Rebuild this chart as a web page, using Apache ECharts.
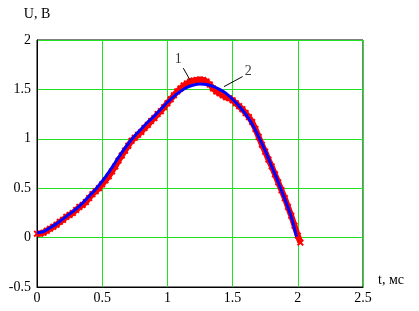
<!DOCTYPE html>
<html><head><meta charset="utf-8">
<script src="https://cdn.jsdelivr.net/npm/echarts@6/dist/echarts.min.js"></script>
<style>html,body{margin:0;padding:0;background:#fff}#c{width:419px;height:311px}</style>
</head><body><div id="c"></div>
<script>
const xTicks = [0, 0.5, 1, 1.5, 2, 2.5];
const yTicks = [-0.5, 0, 0.5, 1, 1.5, 2];
const blueT = [0,0.05,0.1,0.15,0.2,0.25,0.3,0.35,0.4,0.45,0.5,0.55,0.6,0.65,0.7,0.75,0.8,0.85,0.9,0.95,1.0,1.05,1.1,1.15,1.2,1.25,1.3,1.35,1.4,1.45,1.5,1.55,1.6,1.65,1.7,1.75,1.8,1.85,1.9,1.95,1.99];
const blueU = [0.05,0.06,0.10,0.14,0.19,0.24,0.29,0.35,0.42,0.49,0.57,0.66,0.76,0.86,0.95,1.03,1.10,1.17,1.23,1.30,1.37,1.43,1.48,1.52,1.545,1.555,1.55,1.53,1.50,1.46,1.40,1.33,1.25,1.15,1.02,0.88,0.72,0.56,0.39,0.21,0.01];
const redT = [0,0.025,0.05,0.075,0.1,0.125,0.15,0.175,0.2,0.225,0.25,0.275,0.3,0.325,0.35,0.375,0.4,0.425,0.45,0.475,0.5,0.525,0.55,0.575,0.6,0.625,0.65,0.675,0.7,0.725,0.75,0.775,0.8,0.825,0.85,0.875,0.9,0.925,0.95,0.975,1.0,1.025,1.05,1.075,1.1,1.125,1.15,1.175,1.2,1.225,1.25,1.275,1.3,1.325,1.35,1.375,1.4,1.425,1.45,1.475,1.5,1.525,1.55,1.575,1.6,1.625,1.65,1.675,1.7,1.725,1.75,1.775,1.8,1.825,1.85,1.875,1.9,1.925,1.95,1.975,2.0,2.02];
const redU = [0.04,0.04,0.05,0.07,0.09,0.11,0.13,0.16,0.18,0.21,0.23,0.25,0.28,0.31,0.33,0.36,0.40,0.44,0.47,0.50,0.54,0.58,0.62,0.67,0.72,0.78,0.83,0.88,0.93,0.98,1.01,1.04,1.07,1.11,1.14,1.18,1.21,1.25,1.28,1.32,1.36,1.40,1.44,1.48,1.51,1.54,1.56,1.58,1.59,1.595,1.60,1.595,1.58,1.55,1.51,1.48,1.46,1.44,1.42,1.41,1.39,1.36,1.33,1.30,1.26,1.22,1.17,1.10,1.02,0.94,0.87,0.79,0.72,0.64,0.56,0.48,0.40,0.31,0.22,0.12,0.02,-0.05];
const lead1 = [[1.122,1.715],[1.173,1.596]];
const lead2 = [[1.577,1.63],[1.434,1.528]];
const labels = [{t:1.083,u:1.806,text:'1'},{t:1.62,u:1.68,text:'2'}];

const zip = (a,b)=>a.map((v,i)=>[v,b[i]]);
const font = 'Liberation Serif';
const chart = echarts.init(document.getElementById('c'), null, {renderer:'canvas'});
chart.setOption({
  animation:false,
  grid:{left:37,right:56,top:40,bottom:24,show:true,borderColor:'#000',borderWidth:1},
  xAxis:{type:'value',min:0,max:2.5,interval:0.5,
    name:'t, мс',nameLocation:'end',nameGap:15,
    nameTextStyle:{fontFamily:font,fontSize:14,color:'#000',verticalAlign:'bottom',align:'left'},
    axisLine:{show:true,onZero:false,lineStyle:{color:'#000'}},axisTick:{show:false},
    axisLabel:{fontFamily:font,fontSize:14,color:'#000',margin:4,formatter:v=>String(v)},
    splitLine:{show:true,lineStyle:{color:'#22e022',width:1}}},
  yAxis:{type:'value',min:-0.5,max:2,interval:0.5,
    name:'U, B',nameLocation:'end',nameGap:19,
    nameTextStyle:{fontFamily:font,fontSize:14,color:'#000'},
    axisLine:{show:true,onZero:false,lineStyle:{color:'#000'}},axisTick:{show:false},
    axisLabel:{fontFamily:font,fontSize:14,color:'#000',margin:6,formatter:v=>String(v)},
    splitLine:{show:true,lineStyle:{color:'#22e022',width:1}}},
  series:[
    {type:'line',data:zip(redT,redU),lineStyle:{color:'#ff0000',width:6},
     symbol:'path://M0,2L2,0L5,3L8,0L10,2L7,5L10,8L8,10L5,7L2,10L0,8L3,5Z',symbolSize:7,
     itemStyle:{color:'#ff0000'},showSymbol:true,z:2},
    {type:'line',data:zip(blueT,blueU),lineStyle:{color:'#0000ff',width:3},symbol:'none',smooth:0.3,z:3},
    {type:'line',data:lead1,lineStyle:{color:'#000',width:1},symbol:'none',z:4},
    {type:'line',data:lead2,lineStyle:{color:'#000',width:1},symbol:'none',z:4},
    {type:'scatter',data:labels.map(l=>({value:[l.t,l.u],name:l.text})),symbolSize:0,z:5,
     label:{show:true,position:'inside',formatter:p=>p.name,fontFamily:font,fontSize:14,color:'#000'}}
  ]
});
</script></body></html>
